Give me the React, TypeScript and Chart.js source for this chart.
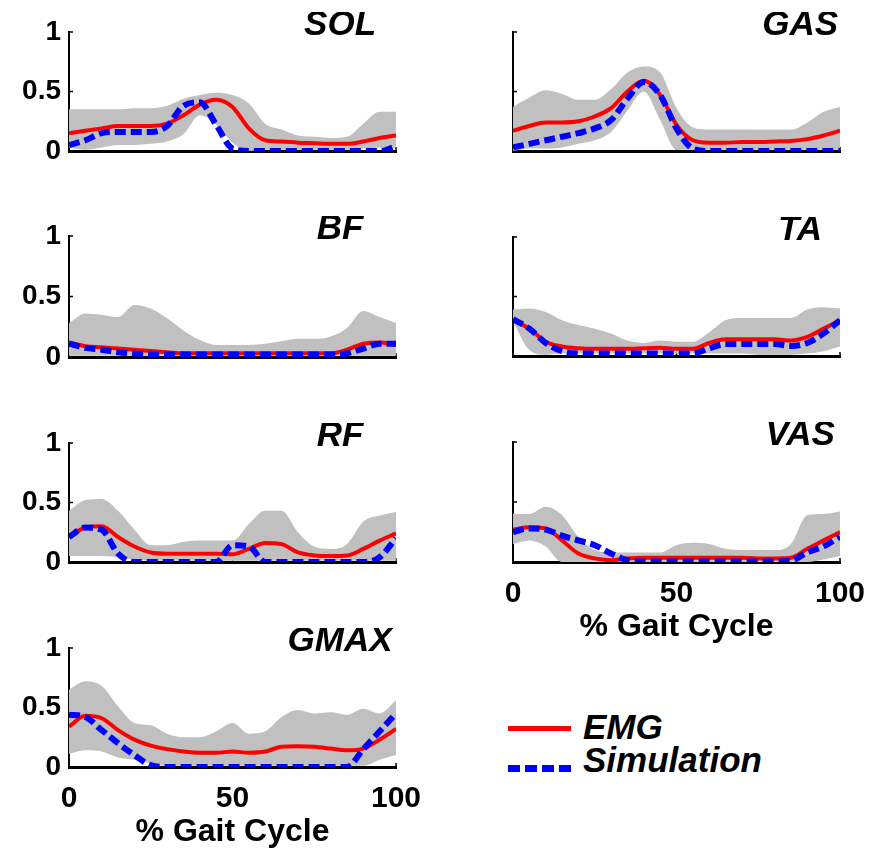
import React, { useEffect, useRef } from "react";
import { Chart, registerables } from "chart.js";

Chart.register(...registerables);

// ---------------- data ----------------
const gaitPct = [0, 5, 10, 15, 20, 25, 30, 35, 40, 45, 50, 55, 60, 65, 70, 75, 80, 85, 90, 95, 100];
const yTickValues = [0, 0.5, 1];
const xTickValues = [0, 50, 100];
const xAxisLabel = "% Gait Cycle";
const legendLabels = ["EMG", "Simulation"];

const solEmg = [0.15, 0.17, 0.19, 0.21, 0.21, 0.21, 0.23, 0.30, 0.39, 0.43, 0.37, 0.19, 0.09, 0.08, 0.07, 0.065, 0.06, 0.06, 0.08, 0.11, 0.13];
const solSim = [0.05, 0.09, 0.15, 0.16, 0.16, 0.16, 0.21, 0.38, 0.41, 0.22, 0.02, 0, 0, 0, 0, 0, 0, 0, 0, 0, 0.04];
const solHi = [0.35, 0.35, 0.35, 0.35, 0.36, 0.36, 0.38, 0.44, 0.47, 0.49, 0.47, 0.40, 0.23, 0.18, 0.13, 0.12, 0.11, 0.12, 0.23, 0.33, 0.33];
const solLo = [0.03, 0.01, 0.03, 0.05, 0.05, 0.06, 0.08, 0.14, 0.30, 0.22, 0.07, 0, 0.01, 0.01, 0.01, 0.01, 0.01, 0.01, 0.02, 0.03, 0.03];

const gasEmg = [0.17, 0.21, 0.24, 0.24, 0.25, 0.29, 0.36, 0.50, 0.59, 0.47, 0.22, 0.09, 0.07, 0.07, 0.075, 0.075, 0.08, 0.085, 0.10, 0.13, 0.17];
const gasSim = [0.03, 0.06, 0.09, 0.12, 0.15, 0.19, 0.26, 0.44, 0.58, 0.47, 0.19, 0.02, 0, 0, 0, 0, 0, 0, 0, 0, 0];
const gasHi = [0.37, 0.45, 0.51, 0.48, 0.43, 0.43, 0.52, 0.66, 0.71, 0.66, 0.36, 0.20, 0.18, 0.18, 0.18, 0.18, 0.18, 0.18, 0.24, 0.33, 0.37];
const gasLo = [0, 0.02, 0.02, 0.03, 0.06, 0.09, 0.16, 0.34, 0.50, 0.26, 0.01, 0.01, 0.01, 0.01, 0.01, 0.01, 0.01, 0.01, 0.01, 0.01, 0.01];

const bfEmg = [0.12, 0.09, 0.08, 0.07, 0.06, 0.05, 0.04, 0.03, 0.03, 0.03, 0.03, 0.03, 0.03, 0.03, 0.03, 0.03, 0.03, 0.06, 0.11, 0.12, 0.10];
const bfSim = [0.11, 0.075, 0.06, 0.04, 0.03, 0.02, 0.02, 0.02, 0.02, 0.02, 0.02, 0.02, 0.02, 0.02, 0.02, 0.02, 0.02, 0.03, 0.07, 0.11, 0.11];
const bfHi = [0.28, 0.36, 0.35, 0.33, 0.43, 0.40, 0.32, 0.22, 0.14, 0.10, 0.10, 0.10, 0.11, 0.13, 0.15, 0.15, 0.17, 0.24, 0.38, 0.33, 0.28];
const bfLo = [0.01, 0.01, 0.01, 0.01, 0.01, 0.01, 0.01, 0.01, 0.01, 0.01, 0.01, 0.01, 0.01, 0.01, 0.01, 0.01, 0.01, 0.01, 0.01, 0.01, 0.01];

const taEmg = [0.30, 0.23, 0.12, 0.08, 0.065, 0.06, 0.06, 0.06, 0.065, 0.07, 0.06, 0.06, 0.11, 0.14, 0.14, 0.14, 0.14, 0.13, 0.16, 0.23, 0.30];
const taSim = [0.31, 0.23, 0.11, 0.04, 0.02, 0.02, 0.02, 0.02, 0.02, 0.02, 0.02, 0.02, 0.065, 0.10, 0.10, 0.10, 0.10, 0.085, 0.11, 0.19, 0.30];
const taHi = [0.39, 0.40, 0.37, 0.30, 0.26, 0.23, 0.19, 0.13, 0.11, 0.13, 0.12, 0.12, 0.20, 0.30, 0.32, 0.32, 0.32, 0.32, 0.39, 0.41, 0.40];
const taLo = [0.29, 0.05, 0.01, 0.02, 0.02, 0.02, 0.02, 0.02, 0.02, 0.02, 0.02, 0.02, 0.02, 0.02, 0.02, 0.01, 0.01, 0.01, 0.02, 0.04, 0.08];

const rfEmg = [0.21, 0.29, 0.30, 0.21, 0.13, 0.08, 0.07, 0.07, 0.07, 0.07, 0.065, 0.11, 0.16, 0.15, 0.08, 0.055, 0.05, 0.055, 0.11, 0.18, 0.24];
const rfSim = [0.21, 0.29, 0.27, 0.07, 0, 0, 0, 0, 0, 0, 0.14, 0.13, 0, 0, 0, 0, 0, 0, 0, 0.04, 0.20];
const rfHi = [0.43, 0.52, 0.53, 0.43, 0.27, 0.14, 0.14, 0.17, 0.18, 0.18, 0.18, 0.32, 0.43, 0.43, 0.25, 0.13, 0.11, 0.15, 0.34, 0.39, 0.42];
const rfLo = [0.05, 0.05, 0.05, 0.04, 0.02, 0.01, 0.01, 0.01, 0.01, 0.01, 0.01, 0.01, 0.01, 0.01, 0.01, 0.01, 0.01, 0.01, 0.01, 0.01, 0.01];

const vasEmg = [0.27, 0.29, 0.28, 0.18, 0.07, 0.03, 0.015, 0.03, 0.035, 0.035, 0.035, 0.035, 0.035, 0.035, 0.035, 0.03, 0.03, 0.035, 0.11, 0.18, 0.25];
const vasSim = [0.25, 0.28, 0.27, 0.22, 0.18, 0.14, 0.07, 0.015, 0.005, 0.005, 0.005, 0.005, 0.005, 0.005, 0.005, 0.005, 0.005, 0.01, 0.08, 0.13, 0.21];
const vasHi = [0.40, 0.40, 0.46, 0.39, 0.21, 0.10, 0.08, 0.08, 0.08, 0.08, 0.14, 0.16, 0.15, 0.11, 0.10, 0.10, 0.10, 0.15, 0.39, 0.40, 0.42];
const vasLo = [0.15, 0.18, 0.13, 0, 0, 0, 0, 0, 0, 0, 0, 0, 0, 0, 0, 0, 0, 0, 0, 0.02, 0.05];

const gmaxEmg = [0.34, 0.43, 0.41, 0.31, 0.23, 0.18, 0.15, 0.13, 0.12, 0.12, 0.13, 0.12, 0.13, 0.17, 0.175, 0.17, 0.155, 0.14, 0.155, 0.23, 0.32];
const gmaxSim = [0.44, 0.42, 0.31, 0.20, 0.10, 0.015, 0, 0, 0, 0, 0, 0, 0, 0, 0, 0, 0, 0, 0.15, 0.30, 0.45];
const gmaxHi = [0.65, 0.72, 0.68, 0.51, 0.37, 0.35, 0.28, 0.25, 0.25, 0.30, 0.37, 0.28, 0.30, 0.42, 0.48, 0.45, 0.46, 0.44, 0.49, 0.45, 0.56];
const gmaxLo = [0.11, 0.14, 0.13, 0.08, 0.06, 0.03, 0.01, 0.01, 0.01, 0.01, 0.01, 0.01, 0.01, 0.01, 0.01, 0.01, 0.01, 0.01, 0.01, 0.06, 0.10];

const muscles = [
  { name: "SOL", emg: solEmg, sim: solSim, hi: solHi, lo: solLo },
  { name: "GAS", emg: gasEmg, sim: gasSim, hi: gasHi, lo: gasLo },
  { name: "BF", emg: bfEmg, sim: bfSim, hi: bfHi, lo: bfLo },
  { name: "TA", emg: taEmg, sim: taSim, hi: taHi, lo: taLo },
  { name: "RF", emg: rfEmg, sim: rfSim, hi: rfHi, lo: rfLo },
  { name: "VAS", emg: vasEmg, sim: vasSim, hi: vasHi, lo: vasLo },
  { name: "GMAX", emg: gmaxEmg, sim: gmaxSim, hi: gmaxHi, lo: gmaxLo },
];

// ---------------- layout / style ----------------
const FONT = "'Liberation Sans', Arial, Helvetica, sans-serif";
const RED = "#ff0000";
const BLUE = "#0000ff";
const GREY = "#c0c0c0";
const PAD_TOP = 20;
const X_AXIS_H = 88;
const X_AXIS_H_BARE = 24;

const columns = [
  { canvasLeft: 0, canvasWidth: 436, axisW: 69, padRight: 40, titleFrac: 0.829, yLabels: true },
  { canvasLeft: 444, canvasWidth: 428, axisW: 69, padRight: 32, titleFrac: 0.878, yLabels: false },
];

const panelPlacement = [
  { col: 0, top: 32, bottom: 151, xAxis: false },
  { col: 1, top: 32, bottom: 151, xAxis: false },
  { col: 0, top: 236, bottom: 357, xAxis: false },
  { col: 1, top: 237, bottom: 356, xAxis: false },
  { col: 0, top: 443, bottom: 562, xAxis: false },
  { col: 1, top: 442, bottom: 562, xAxis: true },
  { col: 0, top: 648, bottom: 767, xAxis: true },
];

const decorPlugin = {
  id: "panelDecor",
  beforeDatasetsDraw(chart: any) {
    const { ctx, chartArea, scales } = chart;
    ctx.save();
    ctx.strokeStyle = "#000";
    ctx.lineWidth = 1.5;
    for (const v of yTickValues) {
      if (v === 0) continue;
      const y = scales.y.getPixelForValue(v);
      ctx.beginPath();
      ctx.moveTo(chartArea.left, y);
      ctx.lineTo(chartArea.left + 4, y);
      ctx.stroke();
    }
    for (const v of xTickValues) {
      if (v === 0) continue;
      const x = scales.x.getPixelForValue(v);
      ctx.beginPath();
      ctx.moveTo(x, chartArea.bottom);
      ctx.lineTo(x, chartArea.bottom - 4);
      ctx.stroke();
    }
    ctx.restore();
  },
  afterDraw(chart: any, _args: any, opts: any) {
    const { ctx, chartArea } = chart;
    ctx.save();
    ctx.fillStyle = "#000";
    ctx.font = `italic bold 35px ${FONT}`;
    ctx.textAlign = "center";
    ctx.textBaseline = "alphabetic";
    ctx.fillText(opts.title, chartArea.left + opts.titleFrac * (chartArea.right - chartArea.left), chartArea.top + 3);
    ctx.restore();
  },
};

function Panel({ idx }: { idx: number }) {
  const ref = useRef<HTMLCanvasElement | null>(null);
  const m = muscles[idx];
  const place = panelPlacement[idx];
  const col = columns[place.col];
  const plotH = place.bottom - place.top;
  const xH = place.xAxis ? X_AXIS_H : X_AXIS_H_BARE;
  const height = PAD_TOP + plotH + xH;
  const width = col.canvasWidth;

  useEffect(() => {
    const pts = (arr: number[]) => gaitPct.map((x, i) => ({ x, y: arr[i] }));
    const chart = new Chart(ref.current as HTMLCanvasElement, {
      type: "line",
      data: {
        datasets: [
          {
            label: legendLabels[1],
            data: pts(m.sim),
            borderColor: BLUE,
            borderWidth: 6,
            borderDash: [11, 5],
            borderCapStyle: "butt",
            pointRadius: 0,
            fill: false,
            cubicInterpolationMode: "monotone",
          },
          {
            label: legendLabels[0],
            data: pts(m.emg),
            borderColor: RED,
            borderWidth: 4,
            pointRadius: 0,
            fill: false,
            cubicInterpolationMode: "monotone",
          },
          {
            label: "upper",
            data: pts(m.hi),
            borderWidth: 0,
            borderColor: GREY,
            backgroundColor: GREY,
            pointRadius: 0,
            fill: "+1",
            cubicInterpolationMode: "monotone",
          },
          {
            label: "lower",
            data: pts(m.lo),
            borderWidth: 0,
            borderColor: GREY,
            pointRadius: 0,
            fill: false,
            cubicInterpolationMode: "monotone",
          },
        ],
      } as any,
      options: {
        animation: false,
        responsive: false,
        maintainAspectRatio: false,
        devicePixelRatio: 1,
        events: [],
        layout: { padding: { top: PAD_TOP, right: col.padRight, left: 0, bottom: 0 } },
        plugins: {
          legend: { display: false },
          tooltip: { enabled: false },
          title: { display: false },
          panelDecor: { title: m.name, titleFrac: col.titleFrac },
        } as any,
        scales: {
          x: {
            type: "linear",
            min: 0,
            max: 100,
            afterBuildTicks: (s: any) => {
              s.ticks = xTickValues.map((v) => ({ value: v }));
            },
            afterFit: (s: any) => {
              s.height = xH;
              s.paddingLeft = 0;
              s.paddingRight = 0;
            },
            grid: { display: false, drawTicks: false },
            border: { display: true, color: "#000", width: 3 },
            ticks: {
              display: place.xAxis,
              color: "#000",
              padding: 14,
              maxRotation: 0,
              font: { family: FONT, size: 30, weight: "bold" },
            },
            title: {
              display: place.xAxis,
              text: xAxisLabel,
              color: "#000",
              font: { family: FONT, size: 32, weight: "bold" },
              padding: { top: 0, bottom: 4 },
            },
          },
          y: {
            type: "linear",
            min: 0,
            max: 1,
            afterBuildTicks: (s: any) => {
              s.ticks = yTickValues.map((v) => ({ value: v }));
            },
            afterFit: (s: any) => {
              s.width = col.axisW;
              s.paddingTop = 0;
              s.paddingBottom = 0;
            },
            grid: { display: false, drawTicks: false },
            border: { display: true, color: "#000", width: 2 },
            ticks: {
              display: col.yLabels,
              color: "#000",
              padding: 8,
              font: { family: FONT, size: 28, weight: "bold" },
              callback: (v: any) => String(v),
            },
          },
        },
      } as any,
      plugins: [decorPlugin as any],
    });
    return () => chart.destroy();
  }, []);

  return (
    <canvas
      ref={ref}
      width={width}
      height={height}
      style={{
        position: "absolute",
        left: col.canvasLeft,
        top: place.top - PAD_TOP,
        width,
        height,
        display: "block",
      }}
    />
  );
}

function Legend() {
  const textStyle: React.CSSProperties = {
    position: "absolute",
    left: 583,
    fontFamily: FONT,
    fontWeight: "bold",
    fontStyle: "italic",
    fontSize: 35,
    lineHeight: "35px",
    color: "#000",
    whiteSpace: "nowrap",
  };
  return (
    <>
      <div style={{ position: "absolute", left: 508, top: 726, width: 63, height: 5, background: RED }} />
      <div style={{ ...textStyle, top: 709 }}>{legendLabels[0]}</div>
      <div
        style={{
          position: "absolute",
          left: 508,
          top: 765,
          width: 63,
          height: 7,
          background: `repeating-linear-gradient(to right, ${BLUE} 0px, ${BLUE} 12px, transparent 12px, transparent 17px)`,
        }}
      />
      <div style={{ ...textStyle, top: 742 }}>{legendLabels[1]}</div>
    </>
  );
}

export default function App() {
  return (
    <div
      style={{
        position: "absolute",
        left: 0,
        top: 0,
        width: 872,
        height: 856,
        overflow: "hidden",
        background: "#fff",
      }}
    >
      {muscles.map((_, i) => (
        <Panel key={i} idx={i} />
      ))}
      <Legend />
    </div>
  );
}
